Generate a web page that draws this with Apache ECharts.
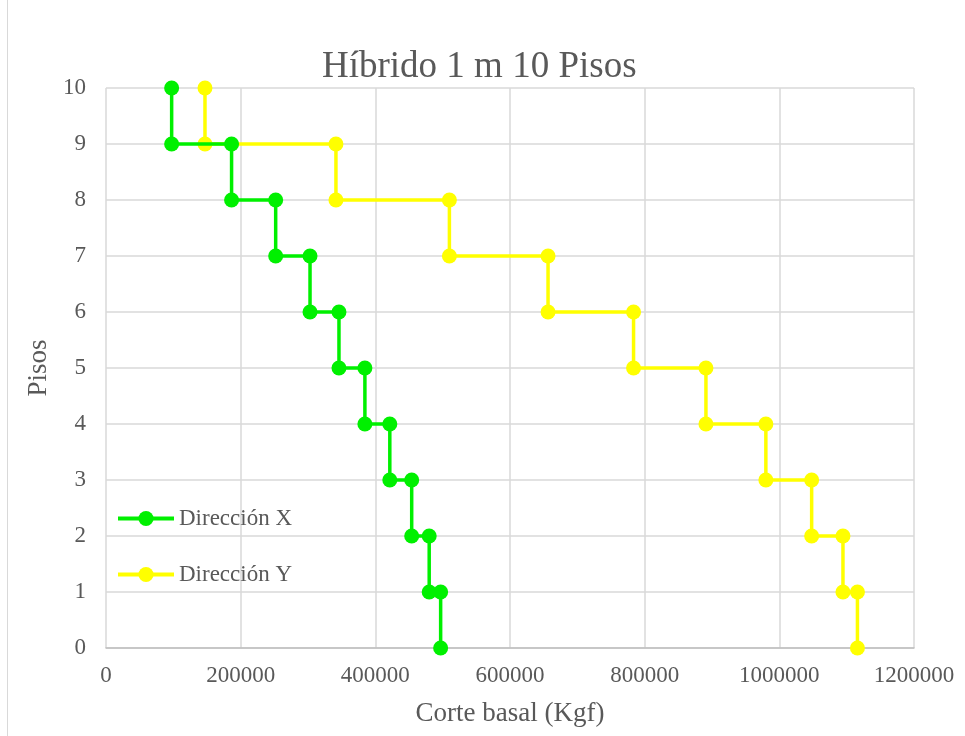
<!DOCTYPE html>
<html>
<head>
<meta charset="utf-8">
<script src="https://cdn.jsdelivr.net/npm/echarts@6/dist/echarts.min.js"></script>
<style>
html,body{margin:0;padding:0;background:#fff;}
#c{width:965px;height:736px;}
</style>
</head>
<body>
<div id="c"></div>
<script>
const floors = [10, 9, 8, 7, 6, 5, 4, 3, 2, 1];
const shearX = [97500, 186500, 252000, 303000, 346000, 384500, 421500, 454000, 480000, 497000];
const shearY = [147000, 341500, 510000, 656500, 783500, 891000, 980000, 1048000, 1094500, 1116000];
const seriesNames = ['Dirección X', 'Dirección Y'];
const xTicks = [0, 200000, 400000, 600000, 800000, 1000000, 1200000];
const yTicks = [0, 1, 2, 3, 4, 5, 6, 7, 8, 9, 10];

function steps(vals) {
  const pts = [];
  floors.forEach((f, i) => { pts.push([vals[i], f]); pts.push([vals[i], f - 1]); });
  return pts;
}

const FONT = 'Liberation Serif';
const TXT = '#595959';
const chart = echarts.init(document.getElementById('c'));
chart.setOption({
  backgroundColor: '#fff',
  animation: false,
  title: {
    text: 'Híbrido 1 m 10 Pisos',
    left: 317, top: 44,
    textStyle: { fontFamily: FONT, fontSize: 37, fontWeight: 'normal', color: TXT }
  },
  graphic: [{
    type: 'rect', shape: { x: 7.5, y: -5, width: 1000, height: 800 },
    style: { fill: 'none', stroke: '#d9d9d9', lineWidth: 1 }, silent: true
  }],
  legend: {
    orient: 'vertical', left: 116, top: 507, itemGap: 33, padding: 0,
    itemWidth: 56, itemHeight: 19,
    lineStyle: { width: 4 },
    textStyle: { fontFamily: FONT, fontSize: 23, color: TXT },
    data: seriesNames
  },
  grid: { left: 106, right: 51, top: 88, bottom: 88, containLabel: false },
  xAxis: {
    type: 'value', min: xTicks[0], max: xTicks[xTicks.length - 1], interval: 200000,
    name: 'Corte basal (Kgf)', nameLocation: 'middle', nameGap: 52,
    nameTextStyle: { fontFamily: FONT, fontSize: 27, color: TXT },
    axisLine: { show: true, lineStyle: { color: '#bfbfbf', width: 1.5 } },
    axisTick: { show: false },
    axisLabel: { fontFamily: FONT, fontSize: 23, color: TXT, margin: 16, formatter: v => String(v) },
    splitLine: { show: true, lineStyle: { color: '#d9d9d9', width: 1.5 } }
  },
  yAxis: {
    type: 'value', min: yTicks[0], max: yTicks[yTicks.length - 1], interval: 1,
    name: 'Pisos', nameLocation: 'middle', nameGap: 52, nameRotate: 90,
    nameTextStyle: { fontFamily: FONT, fontSize: 27, color: TXT },
    axisLine: { show: false },
    axisTick: { show: false },
    axisLabel: { fontFamily: FONT, fontSize: 23, color: TXT, margin: 20, formatter: v => String(v) },
    splitLine: { show: true, lineStyle: { color: '#d9d9d9', width: 1.5 } }
  },
  series: [
    {
      name: seriesNames[0], type: 'line', data: steps(shearX),
      symbol: 'circle', symbolSize: 15, showAllSymbol: true,
      lineStyle: { color: '#00f000', width: 3.5 },
      itemStyle: { color: '#00f000' }, z: 3
    },
    {
      name: seriesNames[1], type: 'line', data: steps(shearY),
      symbol: 'circle', symbolSize: 15, showAllSymbol: true,
      lineStyle: { color: '#ffff00', width: 3.5 },
      itemStyle: { color: '#ffff00' }, z: 2
    }
  ]
});
</script>
</body>
</html>
